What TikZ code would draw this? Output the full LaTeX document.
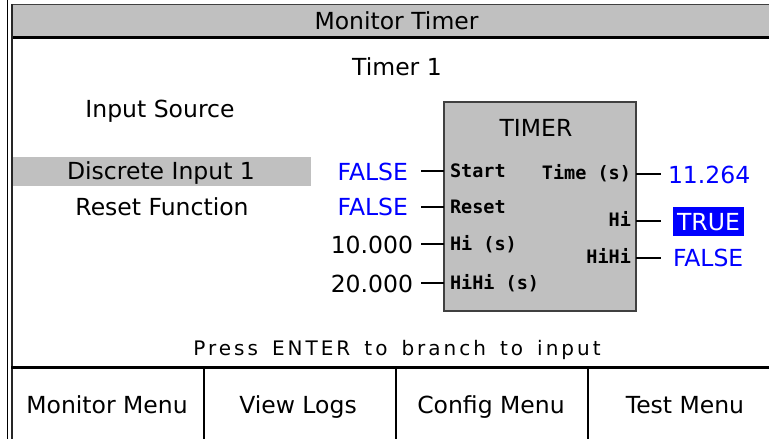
\documentclass[tikz,border=0pt]{standalone}
\usepackage{fontspec}
\setmainfont{DejaVu Sans}
\newfontfamily\lblfont{DejaVu Sans Mono}
\newfontfamily\pressfont[LetterSpace=15,WordSpace=1.5]{DejaVu Sans}
\definecolor{scrgray}{HTML}{C0C0C0}
\definecolor{scrblue}{HTML}{0000FF}
\begin{document}
\begin{tikzpicture}[x=1pt,y=-1pt,
  every node/.style={inner sep=0pt, outer sep=0pt},
  big/.style={font=\fontsize{23.5}{24}\selectfont, text height=17pt, text depth=0pt},
  lbl/.style={font=\lblfont\bfseries\fontsize{18.5}{19}\selectfont, text height=13.5pt, text depth=0pt},
  press/.style={font=\pressfont\fontsize{20}{21}\selectfont, text height=14.5pt, text depth=0pt},
  val/.style={big, text=scrblue},
  wire/.style={line width=2pt, black},
  rule/.style={line width=2pt, black}
]
\useasboundingbox (0,0) rectangle (769,439);
\fill[white] (0,0) rectangle (769,439);
% title bar
\fill[scrgray] (11,4) rectangle (769,38);
\draw[line width=1.5pt, black!75] (11,4.5) -- (769,4.5);
\draw[line width=3pt] (11,37.5) -- (769,37.5);
% left double line
\draw[line width=1.2pt] (7.5,0) -- (7.5,439);
\draw[line width=2pt, black!85] (11.5,4) -- (11.5,439);
% texts
\node[big] (title) at (396.5,21) {Monitor Timer};
\node[big] (timer1) at (397,67) {Timer 1};
\node[big] (insrc) at (160,109) {Input Source};
\fill[scrgray] (12.5,157) rectangle (311,186);
\node[big] (disc) at (161,171) {Discrete Input 1};
\node[big] (rstf) at (162,207) {Reset Function};
% timer block
\node[draw=black!75, line width=1.5pt, fill=scrgray, minimum width=192pt, minimum height=209pt] (box) at (540,206.5) {};
\node[big] (tmr) at (536,127.5) {TIMER};
\node[lbl, anchor=west] (lstart) at (450,171) {Start};
\node[lbl, anchor=west] (lreset) at (450,207) {Reset};
\node[lbl, anchor=west] (lhi) at (450,244) {Hi (s)};
\node[lbl, anchor=west] (lhihi) at (450,283) {HiHi (s)};
\node[lbl, anchor=east] (ltime) at (631,173) {Time (s)};
\node[lbl, anchor=east] (lohi) at (631,220) {Hi};
\node[lbl, anchor=east] (lohihi) at (631,257) {HiHi};
% input values
\node[val, anchor=east] (vstart) at (408,172) {FALSE};
\node[val, anchor=east] (vreset) at (408,207) {FALSE};
\node[big, anchor=east] (vhi) at (413,245) {10.000};
\node[big, anchor=east] (vhihi) at (413,284) {20.000};
\coordinate (w1) at (421,171);
\coordinate (w2) at (421,207);
\coordinate (w3) at (421,244);
\coordinate (w4) at (421,283);
\foreach \w in {w1,w2,w3,w4} \draw[wire] (\w) -- (\w -| box.west);
% output values
\node[val, anchor=west] (vtime) at (668,175) {11.264};
\node[big, fill=scrblue, text=white, minimum width=71pt, minimum height=29pt] (vohi) at (708.5,221.5) {TRUE};
\node[val, anchor=west] (vohihi) at (673,258) {FALSE};
\coordinate (o1) at (661,174);
\coordinate (o2) at (661,221);
\coordinate (o3) at (661,258);
\foreach \o in {o1,o2,o3} \draw[wire] (\o -| box.east) -- (\o);
% hint
\node[press] (hint) at (397,348) {Press ENTER to branch to input};
% bottom menu
\draw[line width=2.5pt] (11,367.5) -- (769,367.5);
\foreach \xx in {204,396,588} \draw[rule] (\xx,367) -- (\xx,439);
\node[big] (bmon) at (107,405) {Monitor Menu};
\node[big] (blogs) at (298,405) {View Logs};
\node[big] (bcfg) at (491,405) {Config Menu};
\node[big] (btest) at (685,405) {Test Menu};
\end{tikzpicture}
\end{document}
